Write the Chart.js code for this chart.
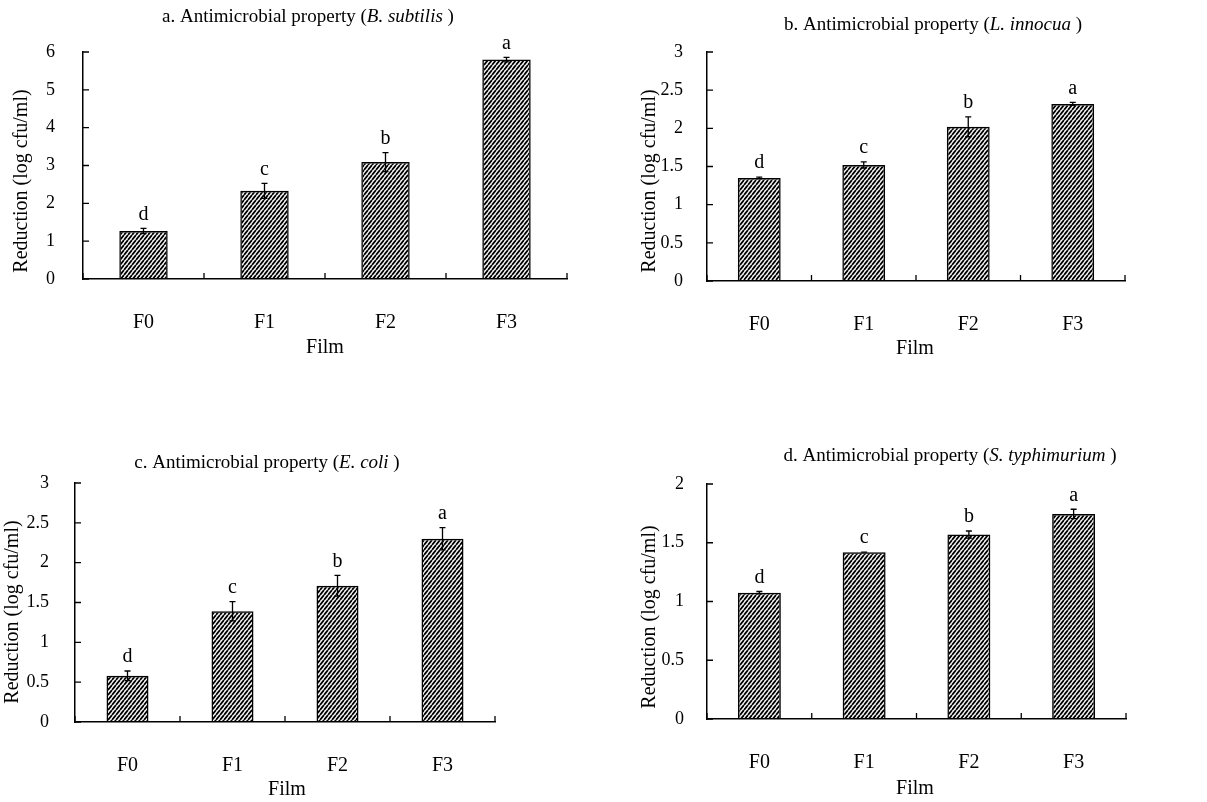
<!DOCTYPE html>
<html>
<head>
<meta charset="utf-8">
<script src="https://cdn.jsdelivr.net/npm/chart.js@4.4.1/dist/chart.umd.min.js"></script>
<style>
  body { margin: 0; background: #fff; width: 1207px; height: 802px; overflow: hidden; position: relative; }
  canvas { position: absolute; }
</style>
</head>
<body>
<canvas id="chartA" width="600" height="400" style="left:0;top:0"></canvas>
<canvas id="chartB" width="607" height="400" style="left:600px;top:0"></canvas>
<canvas id="chartC" width="600" height="402" style="left:0;top:400px"></canvas>
<canvas id="chartD" width="607" height="402" style="left:600px;top:400px"></canvas>
<script>
// films on the x axis and significance letters
const films = ["F0", "F1", "F2", "F3"];
const letters = ["d", "c", "b", "a"];

// log reduction means and error (SD) per organism
const subtilisMeans = [1.27, 2.33, 3.09, 5.80];
const subtilisErr = [0.07, 0.20, 0.25, 0.06];
const innocuaMeans = [1.35, 1.52, 2.02, 2.32];
const innocuaErr = [0.01, 0.04, 0.13, 0.02];
const coliMeans = [0.58, 1.39, 1.71, 2.30];
const coliErr = [0.06, 0.12, 0.13, 0.14];
const typhiMeans = [1.075, 1.42, 1.57, 1.745];
const typhiErr = [0.01, 0.0, 0.03, 0.04];

// y axis ranges: [min, max, step]
const subtilisAxis = [0, 6, 1];
const innocuaAxis = [0, 3, 0.5];
const coliAxis = [0, 3, 0.5];
const typhiAxis = [0, 2, 0.5];

const serif = "'Liberation Serif', 'Times New Roman', serif";

// diagonal hatch used for every bar
function makeHatch() {
  const c = document.createElement("canvas");
  c.width = 4;
  c.height = 5;
  const g = c.getContext("2d");
  g.strokeStyle = "#000";
  g.lineWidth = 1.8;
  g.beginPath();
  g.moveTo(-4, 5); g.lineTo(0, 0);
  g.moveTo(0, 5); g.lineTo(4, 0);
  g.moveTo(4, 5); g.lineTo(8, 0);
  g.stroke();
  return g.createPattern(c, "repeat");
}
const hatch = makeHatch();

// inward ticks, error bars, letters and the text around each panel
const extras = {
  id: "extras",
  afterDatasetsDraw(chart, args, opts) {
    const { ctx, chartArea: area, scales: { x, y } } = chart;
    const means = chart.data.datasets[0].data;
    ctx.save();
    ctx.strokeStyle = "#000";
    ctx.lineWidth = 1.3;
    ctx.beginPath();
    y.ticks.forEach(t => {
      const py = y.getPixelForValue(t.value);
      ctx.moveTo(area.left, py);
      ctx.lineTo(area.left + 6, py);
    });
    for (let i = 0; i <= means.length; i++) {
      const px = x.getPixelForValue(i - 0.5);
      ctx.moveTo(px, area.bottom);
      ctx.lineTo(px, area.bottom - 6);
    }
    ctx.stroke();

    ctx.fillStyle = "#000";
    ctx.font = "20px " + serif;
    ctx.textAlign = "center";
    ctx.textBaseline = "bottom";
    means.forEach((m, i) => {
      const e = opts.err[i];
      const px = x.getPixelForValue(i);
      const top = y.getPixelForValue(m + e);
      const bot = y.getPixelForValue(m - e);
      ctx.beginPath();
      ctx.moveTo(px, top); ctx.lineTo(px, bot);
      ctx.moveTo(px - 3, top); ctx.lineTo(px + 3, top);
      ctx.moveTo(px - 3, bot); ctx.lineTo(px + 3, bot);
      ctx.stroke();
      ctx.fillText(letters[i], px, top - 4);
    });
    ctx.restore();
  },
  afterDraw(chart, args, opts) {
    const { ctx } = chart;
    ctx.save();
    ctx.fillStyle = "#000";
    ctx.textBaseline = "middle";
    // title with italic species name
    const fonts = ["19px " + serif, "italic 19px " + serif, "19px " + serif];
    let total = 0;
    const widths = opts.title.map((s, i) => { ctx.font = fonts[i]; const w = ctx.measureText(s).width; total += w; return w; });
    let tx = opts.titleX - total / 2;
    ctx.textAlign = "left";
    opts.title.forEach((s, i) => { ctx.font = fonts[i]; ctx.fillText(s, tx, opts.titleY); tx += widths[i]; });

    ctx.textAlign = "center";
    ctx.font = "20px " + serif;
    ctx.fillText("Film", opts.filmX, opts.filmY);

    ctx.translate(opts.yTitleX, opts.yTitleY);
    ctx.rotate(-Math.PI / 2);
    ctx.font = "20px " + serif;
    ctx.fillText("Reduction (log cfu/ml)", 0, 0);
    ctx.restore();
  }
};

function panel(id, means, err, axis, box, text) {
  new Chart(document.getElementById(id), {
    type: "bar",
    data: {
      labels: films,
      datasets: [{
        data: means,
        backgroundColor: hatch,
        borderColor: "#000",
        borderWidth: 1.5,
        barPercentage: box.bar,
        categoryPercentage: 1
      }]
    },
    options: {
      responsive: false,
      animation: false,
      events: [],
      layout: { padding: { left: 0, top: box.top, right: box.right, bottom: box.bottom } },
      plugins: {
        legend: { display: false },
        tooltip: { enabled: false },
        extras: Object.assign({ err: err }, text)
      },
      scales: {
        x: {
          grid: { display: false },
          border: { display: true, color: "#000", width: 1.5 },
          ticks: { color: "#000", font: { family: serif, size: 20 }, padding: box.xPad },
          afterFit: s => { s.height = 50; }
        },
        y: {
          min: axis[0],
          max: axis[1],
          grid: { display: false },
          border: { display: true, color: "#000", width: 1.5 },
          ticks: {
            stepSize: axis[2],
            color: "#000",
            font: { family: serif, size: 18 },
            padding: box.yPad,
            callback: v => String(Math.round(v * 10) / 10)
          },
          afterFit: s => { s.width = box.left; }
        }
      }
    },
    plugins: [extras]
  });
}

panel("chartA", subtilisMeans, subtilisErr, subtilisAxis,
  { left: 83, top: 52, right: 33, bottom: 71, bar: 0.4, xPad: 24, yPad: 20 },
  { title: ["a. Antimicrobial property (", "B. subtilis", " )"], titleX: 308, titleY: 17,
    filmX: 325, filmY: 348, yTitleX: 22, yTitleY: 181 });

panel("chartB", innocuaMeans, innocuaErr, innocuaAxis,
  { left: 107, top: 52, right: 82, bottom: 69, bar: 0.41, xPad: 24, yPad: 16 },
  { title: ["b. Antimicrobial property (", "L. innocua", " )"], titleX: 333, titleY: 25,
    filmX: 315, filmY: 349, yTitleX: 50, yTitleY: 181 });

panel("chartC", coliMeans, coliErr, coliAxis,
  { left: 75, top: 83, right: 105, bottom: 30, bar: 0.4, xPad: 24, yPad: 18 },
  { title: ["c. Antimicrobial property (", "E. coli", " )"], titleX: 267, titleY: 63,
    filmX: 287, filmY: 390, yTitleX: 13, yTitleY: 212 });

panel("chartD", typhiMeans, typhiErr, typhiAxis,
  { left: 107, top: 84, right: 81, bottom: 33, bar: 0.41, xPad: 24, yPad: 15 },
  { title: ["d. Antimicrobial property (", "S. typhimurium", " )"], titleX: 350, titleY: 56,
    filmX: 315, filmY: 389, yTitleX: 50, yTitleY: 217 });
</script>
</body>
</html>
